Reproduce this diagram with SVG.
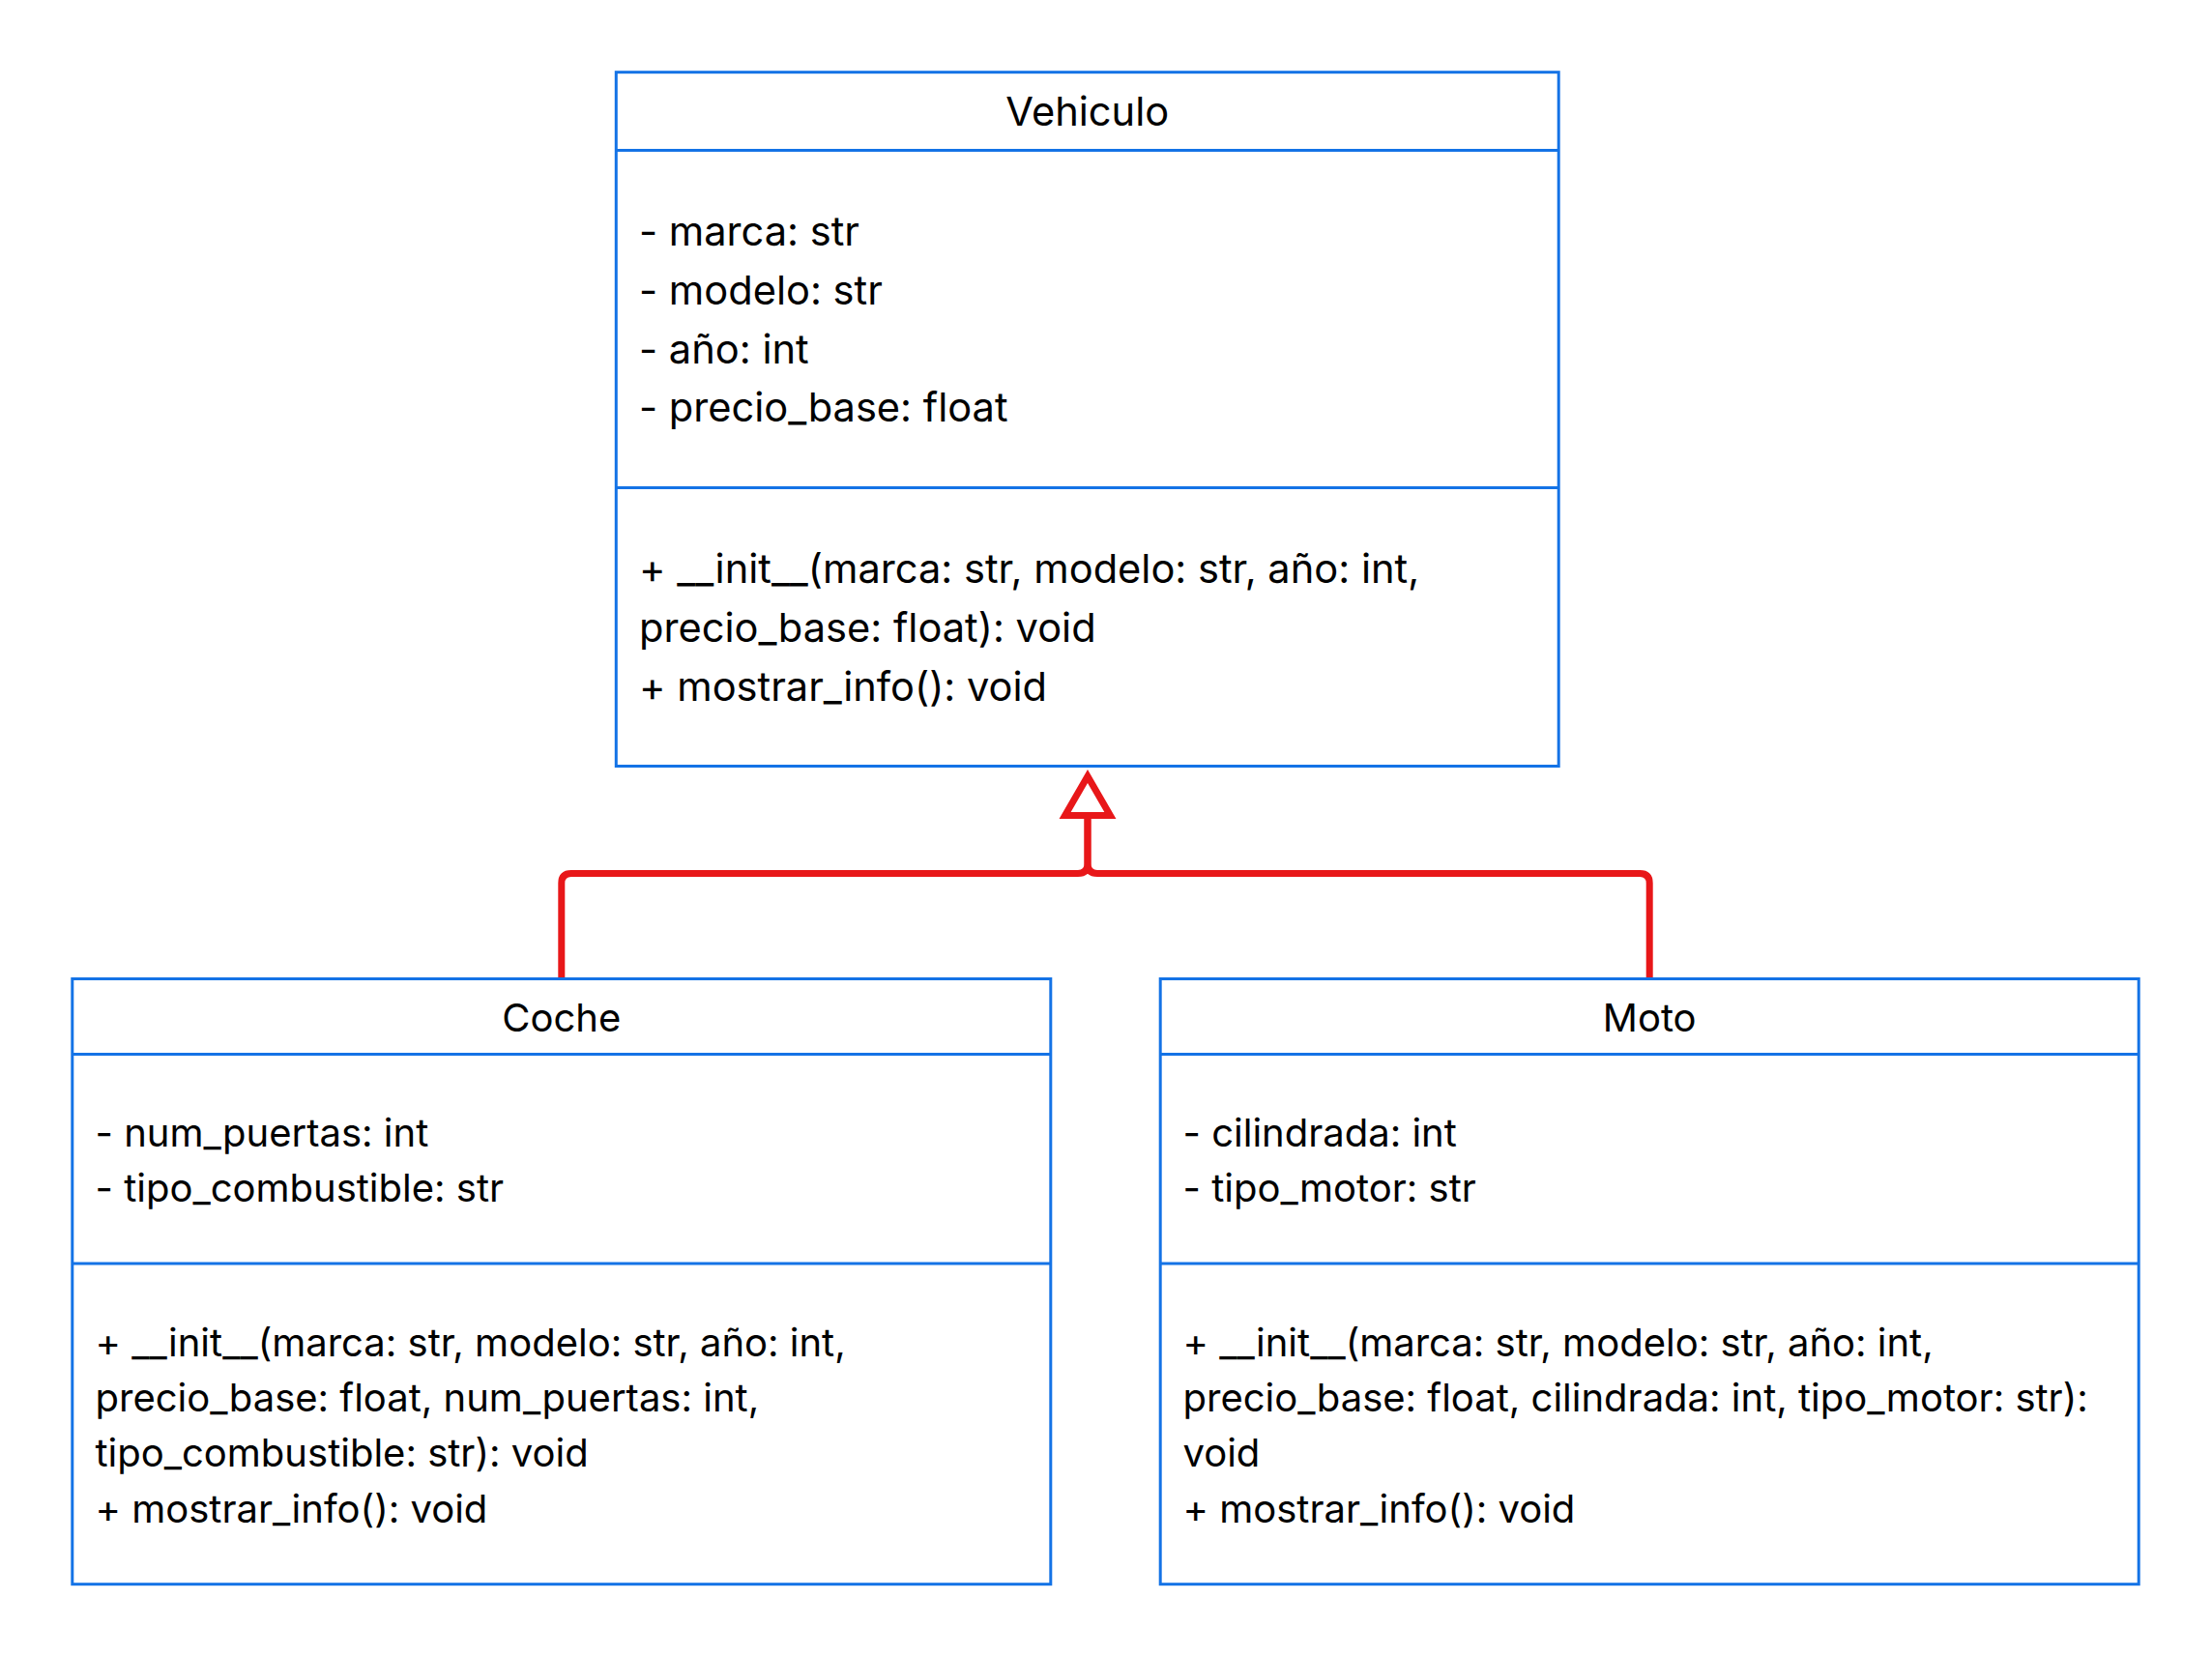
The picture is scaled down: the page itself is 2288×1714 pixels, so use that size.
<svg xmlns="http://www.w3.org/2000/svg" width="2288" height="1714" viewBox="0 0 2288 1714">
<style>
.box{fill:#ffffff;stroke:#1473e6;stroke-width:3}
.sep{stroke:#1473e6;stroke-width:3;fill:none}
.t{font-family:Inter,"Noto Sans","Liberation Sans",sans-serif;fill:#000000}
.big{font-size:41.6px}
.sm{font-size:40px}
.title{text-anchor:middle}
.conn{fill:none;stroke:#e81719;stroke-width:7;stroke-linejoin:round}
.head{fill:#ffffff;stroke:#e81719;stroke-width:7;stroke-linejoin:miter}
</style>
<rect width="2288" height="1714" fill="#ffffff"/>
<g id="connectors">
<path class="conn" d="M580.8,1011 V913.5 Q580.8,903.5 590.8,903.5 H1115 Q1125,903.5 1125,893.5 V847"/>
<path class="conn" d="M1706.2,1011 V913.5 Q1706.2,903.5 1696.2,903.5 H1135 Q1125,903.5 1125,893.5 V847"/>
<path class="head" d="M1125,803 L1148.4,843.5 L1101.6,843.5 Z"/>
</g>
<g id="Vehiculo">
<rect class="box" x="637.3" y="74.7" width="974.9" height="717.8"/>
<line class="sep" x1="637.3" y1="155.5" x2="1612.2" y2="155.5"/>
<line class="sep" x1="637.3" y1="504.5" x2="1612.2" y2="504.5"/>
<text class="t big title" x="1124.75" y="130">Vehiculo</text>
<text class="t big" x="661" y="254.3">- marca: str</text>
<text class="t big" x="661" y="314.9">- modelo: str</text>
<text class="t big" x="661" y="375.5">- año: int</text>
<text class="t big" x="661" y="436">- precio_base: float</text>
<text class="t big" x="661" y="603">+ __init__(marca: str, modelo: str, año: int,</text>
<text class="t big" x="661" y="664">precio_base: float): void</text>
<text class="t big" x="661" y="725">+ mostrar_info(): void</text>
</g>
<g id="Coche">
<rect class="box" x="74.8" y="1012.5" width="1012" height="626.2"/>
<line class="sep" x1="74.8" y1="1090.5" x2="1086.8" y2="1090.5"/>
<line class="sep" x1="74.8" y1="1307" x2="1086.8" y2="1307"/>
<text class="t sm title" x="580.8" y="1066.5">Coche</text>
<text class="t sm" x="98.5" y="1185.7">- num_puertas: int</text>
<text class="t sm" x="98.5" y="1243.3">- tipo_combustible: str</text>
<text class="t sm" x="98.5" y="1402.7">+ __init__(marca: str, modelo: str, año: int,</text>
<text class="t sm" x="98.5" y="1460">precio_base: float, num_puertas: int,</text>
<text class="t sm" x="98.5" y="1517.3">tipo_combustible: str): void</text>
<text class="t sm" x="98.5" y="1575">+ mostrar_info(): void</text>
</g>
<g id="Moto">
<rect class="box" x="1200.2" y="1012.5" width="1012" height="626.2"/>
<line class="sep" x1="1200.2" y1="1090.5" x2="2212.2" y2="1090.5"/>
<line class="sep" x1="1200.2" y1="1307" x2="2212.2" y2="1307"/>
<text class="t sm title" x="1706.2" y="1066.5">Moto</text>
<text class="t sm" x="1223.5" y="1185.7">- cilindrada: int</text>
<text class="t sm" x="1223.5" y="1243.3">- tipo_motor: str</text>
<text class="t sm" x="1223.5" y="1402.7">+ __init__(marca: str, modelo: str, año: int,</text>
<text class="t sm" x="1223.5" y="1460">precio_base: float, cilindrada: int, tipo_motor: str):</text>
<text class="t sm" x="1223.5" y="1517.3">void</text>
<text class="t sm" x="1223.5" y="1575">+ mostrar_info(): void</text>
</g>
</svg>
